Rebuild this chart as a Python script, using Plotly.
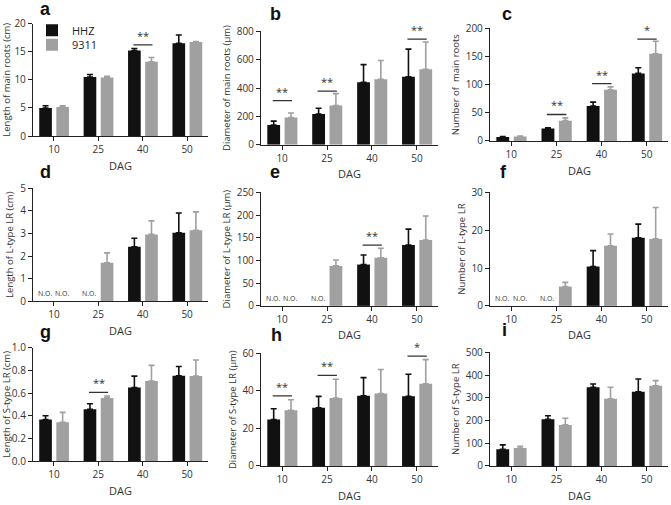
import plotly.graph_objects as go

DAG = ["10", "25", "40", "50"]
HHZ_COLOR = "#111111"
C9311_COLOR = "#a0a0a0"

# ---- data (mean, SD) ----
a_hhz = [5.0, 10.5, 15.2, 16.5]
a_hhz_err = [0.4, 0.45, 0.35, 1.45]
a_9311 = [5.15, 10.4, 13.2, 16.7]
a_9311_err = [0.25, 0.2, 0.75, 0.1]

b_hhz = [139, 217, 441, 480]
b_hhz_err = [28, 41, 124, 194]
b_9311 = [192, 277, 462, 533]
b_9311_err = [32, 84, 132, 192]

c_hhz = [7, 22, 62, 120]
c_hhz_err = [0.8, 1.5, 7, 10]
c_9311 = [8, 36, 91, 155]
c_9311_err = [0.8, 5, 5, 22]

d_hhz = [None, None, 2.41, 3.03]
d_hhz_err = [0, 0, 0.38, 0.88]
d_9311 = [None, 1.7, 2.96, 3.14]
d_9311_err = [0, 0.44, 0.6, 0.82]

e_hhz = [None, None, 91, 134]
e_hhz_err = [0, 0, 21, 35]
e_9311 = [None, 88, 106, 145]
e_9311_err = [0, 13, 21, 53]

f_hhz = [None, None, 10.4, 18.0]
f_hhz_err = [0, 0, 4.2, 3.6]
f_9311 = [None, 5.1, 15.9, 17.7]
f_9311_err = [0, 1.1, 3.1, 8.3]

g_hhz = [0.366, 0.457, 0.649, 0.751]
g_hhz_err = [0.034, 0.049, 0.1, 0.083]
g_9311 = [0.343, 0.557, 0.706, 0.749]
g_9311_err = [0.086, 0.017, 0.137, 0.142]

h_hhz = [24.8, 31.0, 37.4, 37.2]
h_hhz_err = [5.7, 6.1, 9.7, 11.7]
h_9311 = [29.7, 36.2, 38.6, 43.8]
h_9311_err = [5.6, 10, 12.8, 12.9]

i_hhz = [74, 206, 347, 327]
i_hhz_err = [19, 15, 14, 56]
i_9311 = [79, 181, 296, 353]
i_9311_err = [8, 29, 51, 23]

# significance marks: (category index, height, label)
a_sig = [(2, 16.2, "**")]
b_sig = [(0, 311, "**"), (1, 379, "**"), (3, 745, "**")]
c_sig = [(1, 47, "**"), (2, 102, "**"), (3, 181, "*")]
e_sig = [(2, 134, "**")]
g_sig = [(1, 0.606, "**")]
h_sig = [(0, 37.4, "**"), (1, 48.3, "**"), (3, 58.6, "*")]

# not observed marks: (category index, series 0=HHZ 1=9311)
no_marks = [(0, 0), (0, 1), (1, 0)]

W, H = 671, 505
COLS = [(33, 208), (261, 438), (490, 668)]

panels = [
    dict(L="a", col=0, top=16, bot=132, ymax=20, dt=5, fmt="", t="Length of main roots (cm)",
         hhz=a_hhz, he=a_hhz_err, s=a_9311, se=a_9311_err, sig=a_sig, no=False, lx=38, ly=1),
    dict(L="b", col=1, top=24, bot=141, ymax=800, dt=200, fmt="", t="Diameter of main roots (μm)",
         hhz=b_hhz, he=b_hhz_err, s=b_9311, se=b_9311_err, sig=b_sig, no=False, lx=268, ly=6),
    dict(L="c", col=2, top=21, bot=137, ymax=200, dt=50, fmt="", t="Number of  main roots",
         hhz=c_hhz, he=c_hhz_err, s=c_9311, se=c_9311_err, sig=c_sig, no=False, lx=500, ly=6),
    dict(L="d", col=0, top=186, bot=302, ymax=5, dt=1, fmt="", t="Length of L-type LR (cm)",
         hhz=d_hhz, he=d_hhz_err, s=d_9311, se=d_9311_err, sig=[], no=True, lx=38, ly=169),
    dict(L="e", col=1, top=190, bot=307, ymax=250, dt=50, fmt="", t="Diameter of L-type LR (μm)",
         hhz=e_hhz, he=e_hhz_err, s=e_9311, se=e_9311_err, sig=e_sig, no=True, lx=268, ly=169),
    dict(L="f", col=2, top=190, bot=307, ymax=30, dt=10, fmt="", t="Number of L-type LR",
         hhz=f_hhz, he=f_hhz_err, s=f_9311, se=f_9311_err, sig=[], no=True, lx=498, ly=169),
    dict(L="g", col=0, top=350, bot=467, ymax=1.0, dt=0.2, fmt=".1f", t="Length of S-type LR (cm)",
         hhz=g_hhz, he=g_hhz_err, s=g_9311, se=g_9311_err, sig=g_sig, no=False, lx=38, ly=334),
    dict(L="h", col=1, top=356, bot=472, ymax=60, dt=20, fmt="", t="Diameter of S-type LR (μm)",
         hhz=h_hhz, he=h_hhz_err, s=h_9311, se=h_9311_err, sig=h_sig, no=False, lx=269, ly=337),
    dict(L="i", col=2, top=355, bot=472, ymax=500, dt=100, fmt="", t="Number of S-type LR",
         hhz=i_hhz, he=i_hhz_err, s=i_9311, se=i_9311_err, sig=[], no=False, lx=500, ly=332),
]

FONT = "Open Sans, Noto Sans, sans-serif"
AXC = "#222222"
TXC = "#333333"
BW = 0.285
OFF_H = -0.33
OFF_S = 0.055
XR = [-0.47, 3.47]

fig = go.Figure()
leg_common = dict(xanchor="left", yanchor="middle", font=dict(family=FONT, size=11, color="#222"),
                  bgcolor="rgba(0,0,0,0)", itemwidth=30, borderwidth=0)
layout = dict(width=W, height=H, margin=dict(l=0, r=0, t=0, b=0),
              paper_bgcolor="white", plot_bgcolor="white", barmode="overlay",
              showlegend=True,
              legend=dict(x=32 / W, y=1 - 23 / H, **leg_common),
              legend2=dict(x=32 / W, y=1 - 38 / H, **leg_common))
shapes, annos = [], []

for k, p in enumerate(panels):
    n = k + 1
    xa = "x" if n == 1 else f"x{n}"
    ya = "y" if n == 1 else f"y{n}"
    x0, x1 = COLS[p["col"]]
    fig.add_trace(go.Bar(x=DAG, y=p["hhz"], width=BW, offset=OFF_H, marker_color=HHZ_COLOR,
                         marker_line_width=0, name="HHZ", showlegend=(n == 1), legend="legend",
                         error_y=dict(type="data", array=p["he"], arrayminus=[0] * 4, symmetric=False,
                                      color=HHZ_COLOR, thickness=1.6, width=3),
                         xaxis=xa, yaxis=ya))
    fig.add_trace(go.Bar(x=DAG, y=p["s"], width=BW, offset=OFF_S, marker_color=C9311_COLOR,
                         marker_line_width=0, name="9311", showlegend=(n == 1), legend="legend2",
                         error_y=dict(type="data", array=p["se"], arrayminus=[0] * 4, symmetric=False,
                                      color=C9311_COLOR, thickness=1.6, width=3),
                         xaxis=xa, yaxis=ya))
    axkey = "xaxis" if n == 1 else f"xaxis{n}"
    aykey = "yaxis" if n == 1 else f"yaxis{n}"
    layout[axkey] = dict(domain=[x0 / W, x1 / W], anchor=ya, type="category", range=XR,
                         showline=True, linecolor=AXC, linewidth=1.3, ticks="outside",
                         ticklen=4, tickwidth=1.3, tickcolor=AXC, showgrid=False, zeroline=False,
                         tickfont=dict(family=FONT, size=10, color=TXC), fixedrange=True)
    layout[aykey] = dict(domain=[1 - p["bot"] / H, 1 - p["top"] / H], anchor=xa,
                         range=[0, p["ymax"]], dtick=p["dt"], tick0=0, tickformat=p["fmt"],
                         showline=True, linecolor=AXC, linewidth=1.3, ticks="outside",
                         ticklen=4, tickwidth=1.3, tickcolor=AXC, showgrid=False, zeroline=False,
                         tickfont=dict(family=FONT, size=10, color=TXC), fixedrange=True,
                         title=dict(text=p["t"], standoff=4,
                                    font=dict(family=FONT, size=9.5, color=TXC)))
    # x title
    annos.append(dict(x=(x0 + x1) / 2 / W, y=1 - (p["bot"] + 30) / H, xref="paper", yref="paper",
                      text="DAG", showarrow=False, xanchor="center", yanchor="middle",
                      font=dict(family=FONT, size=11, color=TXC)))
    # panel letter
    annos.append(dict(x=p["lx"] / W, y=1 - p["ly"] / H, xref="paper", yref="paper",
                      text=f"<b>{p['L']}</b>", showarrow=False, xanchor="left", yanchor="middle",
                      font=dict(family="Liberation Sans, Arial, sans-serif", size=18, color="#111")))
    # significance
    for ci, yv, lab in p["sig"]:
        shapes.append(dict(type="line", xref=xa, yref=ya, x0=ci - 0.21, x1=ci + 0.22, y0=yv, y1=yv,
                           line=dict(color="#333", width=1.3)))
        annos.append(dict(x=ci + 0.005, y=yv, xref=xa, yref=ya, text=lab, showarrow=False,
                          xanchor="center", yanchor="bottom", yshift=0,
                          font=dict(family=FONT, size=11, color="#333")))
    # not observed
    if p["no"]:
        for ci, ser in no_marks:
            cx = ci + (OFF_H if ser == 0 else OFF_S) + BW / 2
            annos.append(dict(x=cx, y=0, xref=xa, yref=ya, text="N.O.", showarrow=False,
                              xanchor="center", yanchor="bottom", yshift=1,
                              font=dict(family=FONT, size=7, color="#333")))

layout["shapes"] = shapes
layout["annotations"] = annos
fig.update_layout(**layout)

fig.write_html("out.html", config={"displayModeBar": False},
               post_script="document.body.style.margin='0';")
